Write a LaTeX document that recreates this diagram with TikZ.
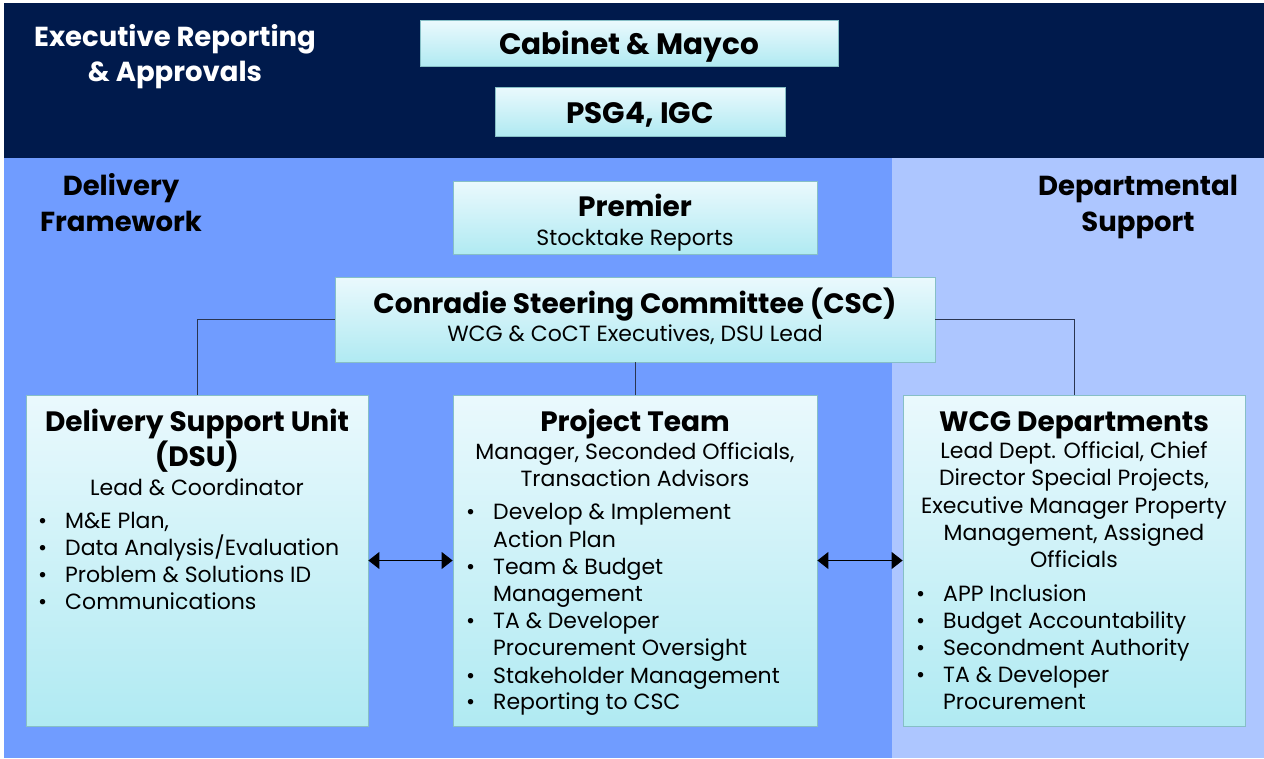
\documentclass[tikz,border=0pt]{standalone}
\usepackage{fontspec}
\setmainfont{Poppins}
\usetikzlibrary{arrows.meta}
\definecolor{navy}{HTML}{001A4C}
\definecolor{midblue}{HTML}{709CFF}
\definecolor{lightblue}{HTML}{ADC6FF}
\definecolor{boxtop}{HTML}{EAF9FD}
\definecolor{boxbot}{HTML}{B0EAF2}
\definecolor{boxedge}{HTML}{86BFC6}
\definecolor{linkcol}{HTML}{2A3550}
\newcommand\bitem[4]{\node[bul] (#1b) at (#2,#4) {•};}
\begin{document}
\begin{tikzpicture}[x=1pt,y=-1pt,
  panel/.style={draw=boxedge, line width=0.8pt, top color=boxtop, bottom color=boxbot, inner sep=0pt},
  ttl/.style={font=\bfseries\fontsize{28}{30}\selectfont, anchor=base, inner sep=0pt},
  bigttl/.style={font=\bfseries\fontsize{29.5}{30}\selectfont, anchor=base, inner sep=0pt},
  sub/.style={font=\fontsize{22}{27}\selectfont, anchor=base, inner sep=0pt},
  bul/.style={font=\fontsize{22}{27}\selectfont, anchor=base west, inner sep=0pt},
  hd/.style={font=\bfseries\fontsize{27.5}{30}\selectfont, anchor=base, inner sep=0pt},
  link/.style={draw=linkcol, line width=0.9pt},
  dbl/.style={draw=black, line width=0.9pt, {Triangle[length=11pt,width=17pt]}-{Triangle[length=11pt,width=17pt]}}
]
\useasboundingbox (0,0) rectangle (1264,758);
\fill[white] (0,0) rectangle (1264,758);
\fill[navy] (4,3) rectangle (1264,158);
\fill[midblue] (4,158) rectangle (892,758);
\fill[lightblue] (892,158) rectangle (1264,758);

% headings
\node[hd, text=white] (h1a) at (175,46) {Executive Reporting};
\node[hd, text=white] (h1b) at (175,81) {\& Approvals};
\node[hd] (h2a) at (121,195) {Delivery};
\node[hd] (h2b) at (121,231) {Framework};
\node[hd] (h3a) at (1138,195) {Departmental};
\node[hd] (h3b) at (1138,231) {Support};

% boxes
\node[panel, minimum width=418, minimum height=46] (cab) at (629,43.5) {};
\node[panel, minimum width=290, minimum height=49] (psg) at (640,111.5) {};
\node[panel, minimum width=364, minimum height=73] (prem) at (635,218) {};
\node[panel, minimum width=600, minimum height=85] (csc) at (635,319.5) {};
\node[panel, minimum width=342, minimum height=331] (dsu) at (197,560.5) {};
\node[panel, minimum width=364, minimum height=331] (pt) at (635,560.5) {};
\node[panel, minimum width=342, minimum height=331] (wcg) at (1074,560.5) {};

% connectors
\draw[link] (csc.west) -| (dsu.north);
\draw[link] (csc.east) -| (wcg.north);
\draw[link] (csc.south) -- (pt.north);
\draw[dbl] (dsu.east) -- (pt.west);
\draw[dbl] (pt.east) -- (wcg.west);

% texts top
\node[bigttl] (cabt) at (629,54) {Cabinet \& Mayco};
\node[bigttl] (psgt) at (640,123) {PSG4, IGC};
\node[ttl] (premt) at (635,216) {Premier};
\node[sub] (prems) at (635,245) {Stocktake Reports};
\node[ttl] (csct) at (635,313) {Conradie Steering Committee (CSC)};
\node[sub] (cscs) at (635,341) {WCG \& CoCT Executives, DSU Lead};

% DSU
\node[ttl] (dsut1) at (197,431) {Delivery Support Unit};
\node[ttl] (dsut2) at (197,466) {(DSU)};
\node[sub] (dsus) at (197,495) {Lead \& Coordinator};
\bitem{d1}{38}{65}{528}\node[bul] (d1) at (65,528) {M\&E Plan,};
\bitem{d2}{38}{65}{555}\node[bul] (d2) at (65,555) {Data Analysis/Evaluation};
\bitem{d3}{38}{65}{582}\node[bul] (d3) at (65,582) {Problem \& Solutions ID};
\bitem{d4}{38}{65}{609}\node[bul] (d4) at (65,609) {Communications};

% Project team
\node[ttl] (ptt) at (635,431) {Project Team};
\node[sub] (pts1) at (635,459) {Manager, Seconded Officials,};
\node[sub] (pts2) at (635,486) {Transaction Advisors};
\bitem{p1}{466}{493}{519}\node[bul] (p1) at (493,519) {Develop \& Implement};
\node[bul] (p1c) at (493,547) {Action Plan};
\bitem{p2}{466}{493}{574}\node[bul] (p2) at (493,574) {Team \& Budget};
\node[bul] (p2c) at (493,601) {Management};
\bitem{p3}{466}{493}{628}\node[bul] (p3) at (493,628) {TA \& Developer};
\node[bul] (p3c) at (493,655) {Procurement Oversight};
\bitem{p4}{466}{493}{683}\node[bul] (p4) at (493,683) {Stakeholder Management};
\bitem{p5}{466}{493}{709}\node[bul] (p5) at (493,709) {Reporting to CSC};

% WCG
\node[ttl] (wcgt) at (1074,431) {WCG Departments};
\node[sub] (wcgs1) at (1074,458) {Lead Dept. Official, Chief};
\node[sub] (wcgs2) at (1074,485) {Director Special Projects,};
\node[sub] (wcgs3) at (1074,513) {Executive Manager Property};
\node[sub] (wcgs4) at (1074,540) {Management, Assigned};
\node[sub] (wcgs5) at (1074,567) {Officials};
\bitem{w1}{916}{943}{601}\node[bul] (w1) at (943,601) {APP Inclusion};
\bitem{w2}{916}{943}{628}\node[bul] (w2) at (943,628) {Budget Accountability};
\bitem{w3}{916}{943}{655}\node[bul] (w3) at (943,655) {Secondment Authority};
\bitem{w4}{916}{943}{682}\node[bul] (w4) at (943,682) {TA \& Developer};
\node[bul] (w4c) at (943,709) {Procurement};
\end{tikzpicture}
\end{document}
